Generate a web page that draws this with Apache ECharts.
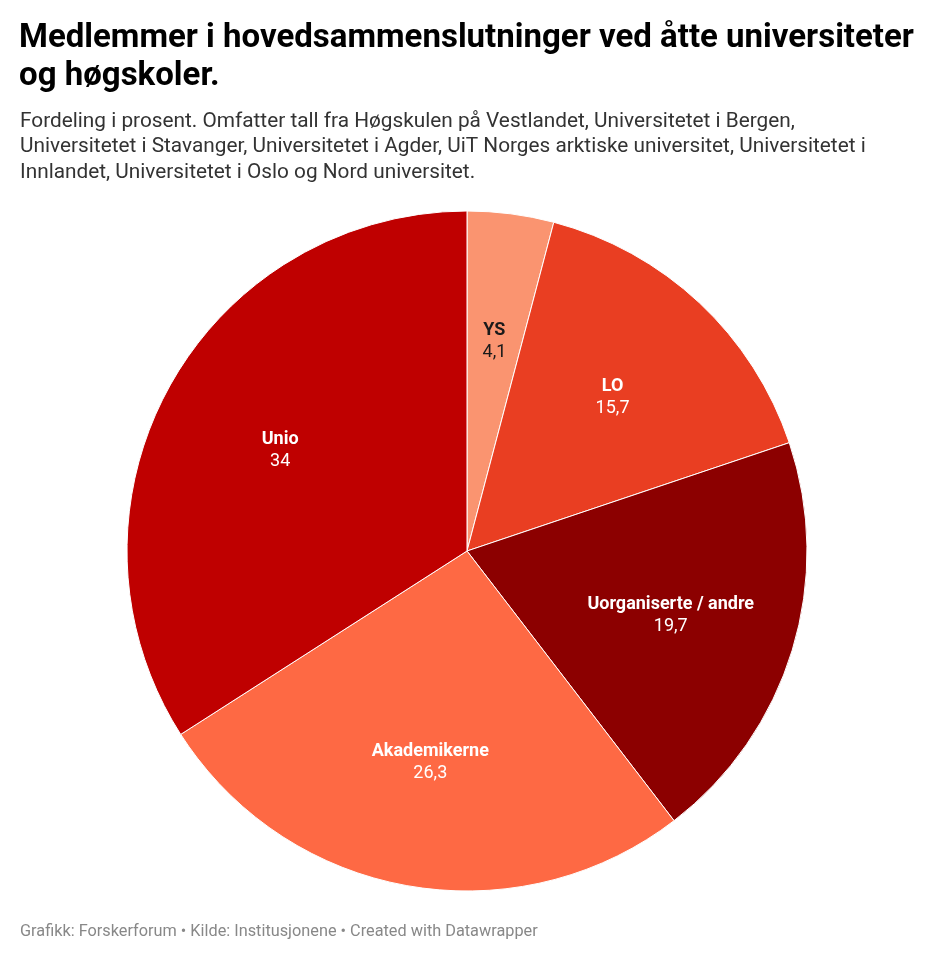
<!DOCTYPE html>
<html>
<head>
<meta charset="utf-8">
<script src="https://cdn.jsdelivr.net/npm/echarts@6/dist/echarts.min.js"></script>
<style>
html,body{margin:0;padding:0;background:#fff;}
#chart{width:934px;height:955px;}
</style>
</head>
<body>
<div id="chart"></div>
<script>
const categories = ['YS', 'LO', 'Uorganiserte / andre', 'Akademikerne', 'Unio'];
const values = [4.1, 15.7, 19.7, 26.3, 34];
const colors = ['#fa9470', '#e93e22', '#8c0000', '#fe6944', '#bf0000'];
const labelColors = ['#1a1a1a', '#ffffff', '#ffffff', '#ffffff', '#ffffff'];

const titleText = 'Medlemmer i hovedsammenslutninger ved åtte universiteter\nog høgskoler.';
const subtitleText = 'Fordeling i prosent. Omfatter tall fra Høgskulen på Vestlandet, Universitetet i Bergen,\nUniversitetet i Stavanger, Universitetet i Agder, UiT Norges arktiske universitet, Universitetet i\nInnlandet, Universitetet i Oslo og Nord universitet.';
const footerText = 'Grafikk: Forskerforum • Kilde: Institusjonene • Created with Datawrapper';

const fmt = v => String(v).replace('.', ',');

const sliceData = categories.map((c, i) => ({
  name: c, value: values[i], itemStyle: { color: colors[i] }
}));
const labelData = categories.map((c, i) => ({
  name: c, value: values[i],
  label: {
    color: labelColors[i],
    rich: {
      n: { fontFamily: 'Roboto', fontWeight: 'bold', fontSize: 18, lineHeight: 22, color: labelColors[i] },
      v: { fontFamily: 'Roboto', fontSize: 18, lineHeight: 22, color: labelColors[i] }
    }
  }
}));

const chart = echarts.init(document.getElementById('chart'), null, { renderer: 'canvas' });
chart.setOption({
  backgroundColor: '#ffffff',
  animation: false,
  title: [
    {
      text: titleText, left: 14, top: 14,
      textStyle: { fontFamily: 'Roboto', fontWeight: 'bold', fontSize: 33, lineHeight: 38.5, color: '#000' }
    },
    {
      text: subtitleText, left: 15, top: 104,
      textStyle: { fontFamily: 'Roboto', fontWeight: 'normal', fontSize: 20.8, lineHeight: 25.5, color: '#333' }
    },
    {
      text: footerText, left: 15, top: 919,
      textStyle: { fontFamily: 'Roboto', fontWeight: 'normal', fontSize: 16.3, color: '#888' }
    }
  ],
  series: [
    {
      type: 'pie',
      center: [467, 551],
      radius: [0, 340],
      startAngle: 90,
      clockwise: true,
      silent: true,
      label: { show: false },
      labelLine: { show: false },
      itemStyle: { borderColor: '#ffffff', borderWidth: 1 },
      data: sliceData
    },
    {
      type: 'pie',
      center: [467, 553],
      radius: [0, 420],
      startAngle: 90,
      clockwise: true,
      silent: true,
      itemStyle: { color: 'rgba(0,0,0,0)', borderWidth: 0 },
      labelLine: { show: false },
      label: {
        show: true,
        position: 'inside',
        formatter: p => '{n|' + p.name + '}\n{v|' + fmt(p.value) + '}'
      },
      data: labelData
    }
  ]
});
</script>
</body>
</html>
